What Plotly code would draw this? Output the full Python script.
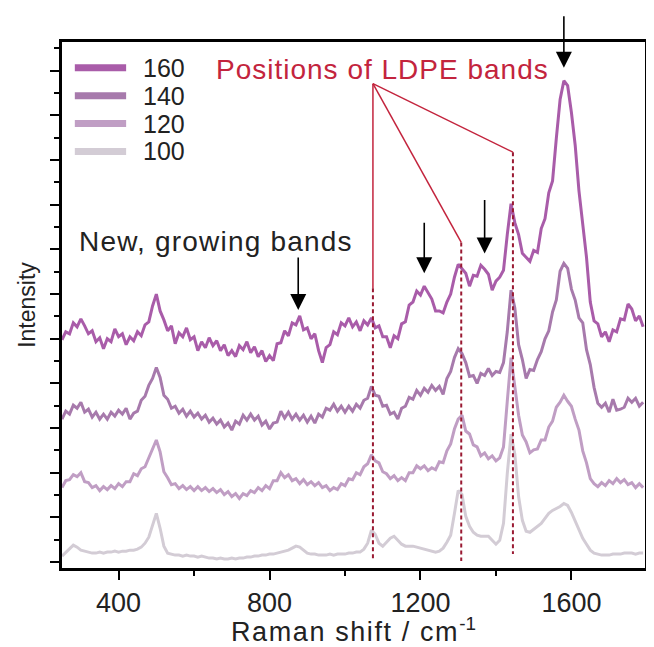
import plotly.graph_objects as go

# Raman shift grid (cm^-1)
shift = list(range(250, 1800, 10))

# Intensities (arbitrary units, stacked with offsets as in the figure)
t160 = [230, 238, 236, 247, 243, 251, 244, 236, 239, 228,
        232, 221, 231, 228, 241, 233, 236, 225, 233, 229,
        238, 234, 245, 248, 264, 276, 259, 250, 239, 244,
        226, 237, 233, 242, 230, 233, 219, 228, 222, 232,
        224, 229, 219, 225, 214, 219, 213, 224, 220, 228,
        217, 223, 213, 219, 208, 214, 209, 226, 227, 239,
        234, 247, 245, 254, 240, 242, 231, 236, 219, 207,
        222, 225, 238, 235, 247, 244, 252, 243, 248, 239,
        249, 245, 252, 242, 244, 233, 233, 222, 234, 231,
        246, 248, 265, 268, 279, 275, 284, 277, 271, 259,
        259, 257, 268, 276, 293, 306, 301, 297, 284, 295,
        294, 305, 301, 296, 280, 289, 293, 300, 336, 367,
        348, 336, 317, 313, 309, 320, 318, 342, 352, 378,
        390, 433, 472, 491, 486, 459, 426, 380, 349, 313,
        268, 249, 246, 233, 238, 228, 240, 238, 251, 250,
        266, 261, 249, 254, 243]

t140 = [150, 158, 155, 164, 161, 167, 157, 160, 152, 157,
        150, 155, 150, 157, 153, 159, 155, 161, 150, 156,
        158, 169, 173, 184, 191, 202, 192, 174, 170, 161,
        163, 156, 160, 153, 158, 152, 156, 150, 154, 147,
        151, 145, 149, 142, 146, 139, 148, 145, 154, 149,
        155, 149, 153, 144, 148, 140, 146, 147, 158, 151,
        157, 150, 155, 149, 154, 147, 153, 146, 155, 152,
        161, 159, 165, 158, 163, 157, 163, 158, 165, 161,
        169, 171, 183, 174, 173, 163, 164, 155, 157, 150,
        161, 163, 172, 170, 179, 174, 181, 177, 184, 179,
        183, 175, 191, 198, 212, 221, 216, 207, 193, 194,
        186, 196, 194, 201, 194, 198, 197, 207, 238, 280,
        262, 225, 210, 191, 200, 199, 210, 218, 231, 239,
        258, 270, 299, 307, 302, 281, 270, 252, 247, 220,
        205, 182, 166, 162, 166, 157, 170, 159, 160, 162,
        171, 167, 171, 163, 167]

t120 = [81, 88, 89, 94, 92, 96, 87, 86, 81, 83,
        78, 82, 79, 83, 80, 85, 82, 87, 87, 95,
        93, 100, 102, 111, 121, 129, 117, 97, 91, 84,
        85, 80, 83, 79, 82, 78, 82, 78, 81, 77,
        80, 76, 79, 74, 77, 72, 75, 70, 75, 73,
        78, 76, 81, 78, 83, 80, 88, 88, 96, 91,
        94, 88, 90, 85, 89, 84, 87, 83, 86, 81,
        83, 78, 81, 79, 85, 83, 90, 89, 96, 94,
        102, 105, 114, 108, 106, 97, 95, 90, 93, 88,
        91, 88, 96, 96, 103, 100, 103, 98, 101, 99,
        107, 106, 118, 125, 140, 150, 154, 138, 135, 124,
        122, 113, 116, 110, 113, 108, 111, 122, 168, 212,
        183, 154, 134, 127, 116, 119, 120, 129, 129, 142,
        148, 162, 167, 174, 168, 163, 150, 139, 118, 106,
        90, 85, 82, 86, 83, 88, 85, 90, 86, 89,
        84, 86, 81, 85, 81]

t100 = [12, 16, 20, 23, 21, 18, 17, 16, 15, 15,
        16, 15, 16, 16, 17, 16, 17, 17, 18, 18,
        19, 21, 25, 31, 43, 55, 40, 22, 15, 14,
        13, 13, 12, 13, 12, 12, 11, 12, 11, 10,
        10, 9, 10, 9, 9, 10, 9, 10, 10, 11,
        11, 12, 12, 13, 13, 14, 14, 15, 16, 17,
        18, 20, 22, 21, 18, 15, 14, 14, 13, 13,
        13, 14, 13, 14, 14, 14, 15, 15, 16, 16,
        19, 25, 38, 34, 25, 22, 26, 30, 32, 28,
        24, 22, 22, 22, 21, 20, 19, 18, 17, 16,
        17, 20, 26, 33, 55, 78, 74, 52, 42, 36,
        33, 32, 32, 32, 28, 24, 28, 45, 95, 135,
        115, 72, 48, 37, 36, 39, 42, 45, 50, 55,
        58, 60, 62, 65, 63, 56, 47, 38, 30, 24,
        18, 15, 14, 13, 13, 13, 14, 14, 14, 15,
        15, 15, 14, 15, 15]

temps = ["160", "140", "120", "100"]
series = [t160, t140, t120, t100]
colors = ["#a95ca9", "#a77aac", "#c09ec4", "#d3ccd5"]

# LDPE band positions and new growing band positions
ldpe_bands = [1074, 1308, 1445]
new_bands = [876, 1210, 1370, 1580]

RED = "#c3243d"
DARKRED = "#9a1a33"
FONT = "Liberation Sans, Arial, sans-serif"


def spaced(text, px):
    return '<span style="letter-spacing:%spx">%s</span>' % (px, text)


fig = go.Figure()
for name, ys, col in reversed(list(zip(temps, series, colors))):
    fig.add_trace(go.Scatter(x=shift, y=ys, mode="lines", name=name,
                             line=dict(color=col, width=3),
                             showlegend=False))

# legend (drawn manually to match the compact row spacing)
leg_y = [0.951, 0.898, 0.845, 0.792]
for name, col, yy in zip(temps, colors, leg_y):
    fig.add_shape(type="line", xref="paper", yref="paper",
                  x0=0.022, x1=0.110, y0=yy, y1=yy,
                  line=dict(color=col, width=7))
    fig.add_annotation(xref="paper", yref="paper", x=0.136, y=yy,
                       text=name, showarrow=False, xanchor="left",
                       yanchor="middle", font=dict(size=25, color="#222"))

# converging red lines to the LDPE band positions
hub_x, hub_y = ldpe_bands[0], 488
ends = [282, 328, 419]
for bx, ey in zip(ldpe_bands, ends):
    fig.add_shape(type="line", xref="x", yref="y", x0=hub_x, y0=hub_y,
                  x1=bx, y1=ey, line=dict(color=RED, width=1.5))
bottoms = [7, 7, 14]
for bx, ey, by in zip(ldpe_bands, ends, bottoms):
    fig.add_shape(type="line", xref="x", yref="y", x0=bx, y0=ey,
                  x1=bx, y1=by, line=dict(color=DARKRED, width=2, dash="4px,3px"))

fig.add_annotation(x=1099, y=502, xref="x", yref="y",
                   text=spaced("Positions of LDPE bands", 1),
                   showarrow=False, font=dict(size=28, color=RED))
fig.add_annotation(x=290, y=329, xref="x", yref="y",
                   text=spaced("New, growing bands", 1.2),
                   showarrow=False, xanchor="left", font=dict(size=28, color="#222"))

# black arrows marking new bands
tips = [260, 297, 317, 504]
tails = [-54, -52, -55, -53]
for bx, ty, ay in zip(new_bands, tips, tails):
    fig.add_annotation(x=bx, y=ty, xref="x", yref="y", text="", showarrow=True,
                       ax=0, ay=ay, arrowhead=2, arrowsize=2, arrowwidth=1.6,
                       arrowcolor="black", standoff=0)

fig.update_layout(
    width=646, height=639,
    margin=dict(l=54, r=6, t=34, b=75),
    paper_bgcolor="white", plot_bgcolor="white",
    font=dict(family=FONT, color="#222"),
    xaxis=dict(range=[250, 1795], tickmode="linear", tick0=400, dtick=400,
               ticks="outside", ticklen=9, tickwidth=2, tickcolor="black",
               showline=True, linewidth=2.5, linecolor="black", mirror=True,
               showgrid=False, zeroline=False,
               tickfont=dict(size=27, color="#222"),
               minor=dict(tick0=400, dtick=200, ticks="outside", ticklen=5,
                          tickwidth=2, tickcolor="black", showgrid=False),
               title=dict(text=spaced("Raman shift / cm", 1.6) + "<sup>-1</sup>",
                          standoff=4, font=dict(size=27, color="#222"))),
    yaxis=dict(range=[0, 530], tickmode="linear", tick0=6, dtick=45,
               ticks="outside", ticklen=9, tickwidth=2, tickcolor="black",
               showticklabels=False,
               showline=True, linewidth=2.5, linecolor="black", mirror=True,
               showgrid=False, zeroline=False,
               minor=dict(tick0=6, dtick=22.5, ticks="outside", ticklen=5,
                          tickwidth=2, tickcolor="black", showgrid=False),
               title=dict(text="Intensity", standoff=9,
                          font=dict(size=23, color="#222"))),
)

fig.write_html("out.html")
